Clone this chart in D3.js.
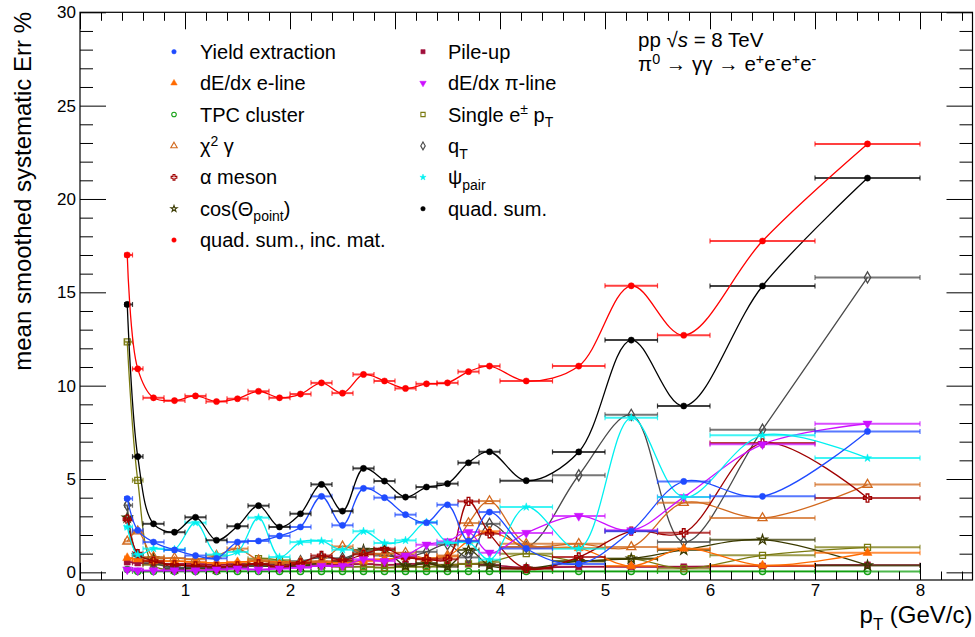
<!DOCTYPE html>
<html>
<head>
<meta charset="utf-8">
<script src="https://cdn.jsdelivr.net/npm/d3@7"></script>
<style>
  body { margin: 0; background: #fff; }
  text { font-family: "Liberation Sans", Arial, Helvetica, sans-serif; fill: #000; }
</style>
</head>
<body>
<div id="chart"></div>
<script>
// pT bins (GeV/c)
var pt     = [0.45, 0.55, 0.7, 0.9, 1.1, 1.3, 1.5, 1.7, 1.9, 2.1, 2.3, 2.5, 2.7, 2.9, 3.1, 3.3, 3.5, 3.7, 3.9, 4.25, 4.75, 5.25, 5.75, 6.5, 7.5];
var ptLow  = [0.425, 0.5, 0.6, 0.8, 1.0, 1.2, 1.4, 1.6, 1.8, 2.0, 2.2, 2.4, 2.6, 2.8, 3.0, 3.2, 3.4, 3.6, 3.8, 4.0, 4.5, 5.0, 5.5, 6.0, 7.0];
var ptHigh = [0.5, 0.6, 0.8, 1.0, 1.2, 1.4, 1.6, 1.8, 2.0, 2.2, 2.4, 2.6, 2.8, 3.0, 3.2, 3.4, 3.6, 3.8, 4.0, 4.5, 5.0, 5.5, 6.0, 7.0, 8.0];

// systematic errors in %
var yieldExtraction = [3.95, 2.25, 1.62, 1.2, 0.9, 0.75, 1.62, 1.68, 1.95, 2.43, 4.07, 2.52, 4.5, 4.0, 3.09, 2.66, 3.62, 1.68, 3.23, 1.28, 0.45, 2.2, 4.87, 4.07, 7.55];
var dEdxELine       = [0.77, 0.7, 0.6, 0.6, 0.55, 0.5, 0.55, 0.6, 0.55, 0.5, 0.55, 0.5, 0.6, 0.7, 0.8, 0.75, 0.85, 1.7, 2.2, 1.35, 1.3, 0.34, 1.27, 0.37, 1.05];
var tpcCluster      = [0.15, 0.05, 0.05, 0.05, 0.05, 0.05, 0.05, 0.05, 0.05, 0.05, 0.05, 0.05, 0.05, 0.05, 0.05, 0.05, 0.05, 0.05, 0.05, 0.05, 0.05, 0.05, 0.05, 0.05, 0.05];
var chi2Gamma       = [1.66, 2.2, 0.82, 0.77, 0.7, 0.9, 1.27, 0.65, 0.5, 0.55, 0.6, 1.39, 1.0, 1.0, 1.05, 0.75, 0.9, 2.64, 3.82, 1.53, 1.53, 1.36, 3.73, 2.91, 4.7];
var alphaMeson      = [2.85, 1.0, 0.6, 0.4, 0.35, 0.3, 0.35, 0.45, 0.3, 0.5, 0.9, 0.65, 0.96, 1.27, 0.8, 0.7, 0.7, 3.8, 2.07, 0.2, 0.82, 2.21, 2.12, 6.93, 3.98];
var cosPointing     = [2.93, 0.9, 0.75, 0.2, 0.25, 0.2, 0.3, 0.35, 0.3, 0.35, 0.5, 0.6, 1.2, 1.2, 0.35, 0.5, 0.3, 1.2, 0.37, 0.2, 0.6, 0.73, 1.2, 1.75, 0.37];
var quadSumIncMat   = [17.0, 10.9, 9.35, 9.2, 9.45, 9.15, 9.3, 9.7, 9.35, 9.55, 10.15, 9.6, 10.6, 10.25, 9.85, 10.1, 10.15, 10.75, 11.05, 10.25, 11.05, 15.35, 12.7, 17.75, 22.95];
var pileUp          = [0.55, 0.5, 0.45, 0.45, 0.45, 0.4, 0.45, 0.45, 0.4, 0.45, 0.45, 0.4, 0.45, 0.4, 0.45, 0.45, 0.4, 0.45, 0.4, 0.25, 0.3, 0.3, 0.3, 0.34, 0.4];
var dEdxPiLine      = [0.15, 0.1, 0.1, 0.1, 0.1, 0.15, 0.2, 0.15, 0.2, 0.25, 0.35, 0.35, 0.7, 0.6, 0.9, 1.48, 1.66, 2.16, 1.05, 2.11, 3.02, 2.25, 4.03, 6.86, 7.96];
var singlePt        = [12.35, 4.93, 0.4, 0.15, 0.2, 0.15, 0.25, 0.73, 0.65, 0.4, 0.35, 0.3, 0.3, 0.25, 0.3, 0.3, 0.4, 0.45, 0.55, 1.0, 0.6, 0.73, 0.2, 0.91, 1.34];
var qT              = [3.59, 0.9, 0.5, 0.25, 0.3, 0.25, 0.3, 0.4, 0.5, 0.6, 0.8, 0.75, 1.1, 0.9, 0.8, 1.1, 1.5, 0.8, 2.6, 1.36, 5.2, 8.44, 1.62, 7.64, 15.8];
var psiPair         = [2.43, 0.95, 1.27, 1.23, 2.66, 0.95, 1.09, 2.93, 0.82, 1.62, 1.68, 1.21, 2.2, 1.57, 1.71, 2.69, 1.59, 1.62, 0.68, 3.5, 1.27, 8.28, 4.03, 7.34, 6.12];
var quadSum         = [14.35, 6.2, 2.6, 2.15, 2.95, 1.72, 2.47, 3.57, 2.43, 3.14, 4.71, 3.28, 5.57, 4.89, 4.03, 4.57, 4.75, 5.87, 6.46, 4.91, 6.45, 12.44, 8.91, 15.34, 21.12];

var W = 975, H = 637;
var fx0 = 80, fx1 = 972.5, fy0 = 12.3, fy1 = 580;

var svg = d3.select("#chart").append("svg")
    .attr("width", W)
    .attr("height", H);

var x = d3.scaleLinear().domain([0, 8.5]).range([fx0, fx1]);
var y = d3.scaleLinear().domain([-0.41, 30]).range([fy1, fy0]);

// series styles (legend order)
var series = [
  {key: "yield",  values: yieldExtraction, color: "#1f4bff", shape: d3.symbolCircle,   fill: true,  label: [["Yield extraction"]]},
  {key: "eline",  values: dEdxELine,       color: "#ff6a00", shape: d3.symbolTriangle, fill: true,  label: [["dE/dx e-line"]]},
  {key: "tpc",    values: tpcCluster,      color: "#12a012", shape: d3.symbolCircle,   fill: false, label: [["TPC cluster"]]},
  {key: "chi2",   values: chi2Gamma,       color: "#d2691e", shape: d3.symbolTriangle, fill: false, label: [["\u03c7"], ["2", "sup"], [" \u03b3"]]},
  {key: "alpha",  values: alphaMeson,      color: "#a00000", shape: d3.symbolCross,    fill: false, label: [["\u03b1 meson"]]},
  {key: "cos",    values: cosPointing,     color: "#3a3a00", shape: d3.symbolStar,     fill: false, label: [["cos(\u0398"], ["point", "sub"], [")"]]},
  {key: "quadm",  values: quadSumIncMat,   color: "#ff0000", shape: d3.symbolCircle,   fill: true,  label: [["quad. sum., inc. mat."]]},
  {key: "pileup", values: pileUp,          color: "#a0103c", shape: d3.symbolSquare,   fill: true,  label: [["Pile-up"]]},
  {key: "piline", values: dEdxPiLine,      color: "#cc11ff", shape: d3.symbolTriangle, fill: true,  down: true, label: [["dE/dx \u03c0-line"]]},
  {key: "single", values: singlePt,        color: "#7a7a10", shape: d3.symbolSquare,   fill: false, label: [["Single e"], ["\u00b1", "sup"], [" p"], ["T", "sub"]]},
  {key: "qt",     values: qT,              color: "#4a4a4a", shape: d3.symbolDiamond,  fill: false, label: [["q"], ["T", "sub"]]},
  {key: "psi",    values: psiPair,         color: "#00f0f0", shape: d3.symbolStar,     fill: true,  label: [["\u03c8"], ["pair", "sub"]]},
  {key: "quad",   values: quadSum,         color: "#000000", shape: d3.symbolCircle,   fill: true,  label: [["quad. sum."]]}
];

var drawOrder = ["tpc", "pileup", "single", "cos", "qt", "eline", "chi2", "alpha", "piline", "psi", "yield", "quad", "quadm"];

var line = d3.line()
    .curve(d3.curveCatmullRom.alpha(0.5))
    .x(function(d) { return x(d.pt); })
    .y(function(d) { return y(d.v); });

function markerPath(s, size) {
  return d3.symbol().type(s.shape).size(size)();
}

function markerTransform(s, cx, cy) {
  return "translate(" + cx + "," + cy + ")" + (s.down ? " rotate(180)" : "");
}

var plot = svg.append("g");

drawOrder.forEach(function(k) {
  var s = series.find(function(d) { return d.key === k; });
  var pts = s.values.map(function(v, i) {
    return {pt: pt[i], lo: ptLow[i], hi: ptHigh[i], v: v};
  });
  var g = plot.append("g").attr("class", "series-" + k);

  g.append("path")
      .attr("d", line(pts))
      .attr("fill", "none")
      .attr("stroke", s.color)
      .attr("stroke-width", 1.3);

  // horizontal bin-width error bars
  var eb = g.selectAll(".eb").data(pts).enter().append("g")
      .attr("stroke", s.color)
      .attr("stroke-opacity", 0.75)
      .attr("stroke-width", 2);
  eb.append("line")
      .attr("x1", function(d) { return x(d.lo); })
      .attr("x2", function(d) { return x(d.hi); })
      .attr("y1", function(d) { return y(d.v); })
      .attr("y2", function(d) { return y(d.v); });
  eb.append("line")
      .attr("x1", function(d) { return x(d.lo); })
      .attr("x2", function(d) { return x(d.lo); })
      .attr("y1", function(d) { return y(d.v) - 2.5; })
      .attr("y2", function(d) { return y(d.v) + 2.5; })
      .attr("stroke-width", 1.2);
  eb.append("line")
      .attr("x1", function(d) { return x(d.hi); })
      .attr("x2", function(d) { return x(d.hi); })
      .attr("y1", function(d) { return y(d.v) - 2.5; })
      .attr("y2", function(d) { return y(d.v) + 2.5; })
      .attr("stroke-width", 1.2);

  var sz = s.shape === d3.symbolCircle ? 30 : 36;
  if (k === "psi") sz = 20;
  if (k === "cos") sz = 28;
  g.selectAll(".mk").data(pts).enter().append("path")
      .attr("d", markerPath(s, sz))
      .attr("transform", function(d) { return markerTransform(s, x(d.pt), y(d.v)); })
      .attr("fill", s.fill ? s.color : "none")
      .attr("stroke", s.color)
      .attr("stroke-width", s.fill ? 0.5 : 1.3);
});

// axes: ticks point inward on all four sides
var yMajor = d3.range(0, 31, 5);
var yMinor = d3.range(0, 31, 1).filter(function(d) { return d % 5 !== 0; });
var xMajor = d3.range(0, 9, 1);
var xMinor = d3.range(0, 8.45, 0.2).filter(function(d) { return Math.abs(d - Math.round(d)) > 1e-6; });

function styleAxis(g) {
  g.select(".domain").remove();
  g.selectAll("line").attr("stroke", "#000").attr("stroke-width", 1);
  g.selectAll("text").attr("font-size", 17).attr("fill", "#000")
      .attr("font-family", "'Liberation Sans', Arial, sans-serif");
}

svg.append("g").attr("transform", "translate(" + fx0 + ",0)")
    .call(d3.axisLeft(y).tickValues(yMajor).tickSize(-26).tickPadding(4))
    .call(styleAxis);
svg.append("g").attr("transform", "translate(" + fx0 + ",0)")
    .call(d3.axisLeft(y).tickValues(yMinor).tickSize(-13).tickFormat(""))
    .call(styleAxis);
svg.append("g").attr("transform", "translate(" + fx1 + ",0)")
    .call(d3.axisRight(y).tickValues(yMajor).tickSize(-26).tickFormat(""))
    .call(styleAxis);
svg.append("g").attr("transform", "translate(" + fx1 + ",0)")
    .call(d3.axisRight(y).tickValues(yMinor).tickSize(-13).tickFormat(""))
    .call(styleAxis);

svg.append("g").attr("transform", "translate(0," + fy1 + ")")
    .call(d3.axisBottom(x).tickValues(xMajor).tickSize(-17).tickPadding(4).tickFormat(d3.format("d")))
    .call(styleAxis);
svg.append("g").attr("transform", "translate(0," + fy1 + ")")
    .call(d3.axisBottom(x).tickValues(xMinor).tickSize(-8.5).tickFormat(""))
    .call(styleAxis);
svg.append("g").attr("transform", "translate(0," + fy0 + ")")
    .call(d3.axisTop(x).tickValues(xMajor).tickSize(-17).tickFormat(""))
    .call(styleAxis);
svg.append("g").attr("transform", "translate(0," + fy0 + ")")
    .call(d3.axisTop(x).tickValues(xMinor).tickSize(-8.5).tickFormat(""))
    .call(styleAxis);

// frame
svg.append("rect")
    .attr("x", fx0).attr("y", fy0)
    .attr("width", fx1 - fx0).attr("height", fy1 - fy0)
    .attr("fill", "none").attr("stroke", "#000").attr("stroke-width", 1.2);

// text with sub/superscripts
function rich(sel, parts, fs) {
  var shift = 0;
  parts.forEach(function(p) {
    var kind = p[1] || "n";
    var target = kind === "sup" ? -0.36 * fs : (kind === "sub" ? 0.28 * fs : 0);
    var t = sel.append("tspan").attr("dy", target - shift).text(p[0]);
    if (kind === "sup" || kind === "sub") t.attr("font-size", 0.7 * fs);
    if (kind === "it") t.attr("font-style", "italic");
    shift = target;
  });
}

// axis titles
svg.append("text")
    .attr("transform", "translate(31,12) rotate(-90)")
    .attr("text-anchor", "end")
    .attr("font-size", 24)
    .text("mean smoothed systematic Err %");

var xt = svg.append("text")
    .attr("x", fx1).attr("y", 623)
    .attr("text-anchor", "end")
    .attr("font-size", 24);
rich(xt, [["p"], ["T", "sub"], [" (GeV/c)"]], 24);

// legend, two columns filled column-wise
var legFs = 20;
var legCols = [[0, 1, 2, 3, 4, 5, 6], [7, 8, 9, 10, 11, 12]];
var colMarkX = [174, 423], colTextX = [200, 448];
legCols.forEach(function(col, c) {
  col.forEach(function(idx, r) {
    var s = series[idx];
    var cy = 51.7 + r * 31.4;
    var msz = s.shape === d3.symbolCircle ? 16 : 18;
    if (s.shape === d3.symbolStar) msz = 12;
    svg.append("path")
        .attr("d", markerPath(s, msz))
        .attr("transform", markerTransform(s, colMarkX[c], cy))
        .attr("fill", s.fill ? s.color : "none")
        .attr("stroke", s.color)
        .attr("stroke-width", s.fill ? 0.5 : 1.1);
    var t = svg.append("text")
        .attr("x", colTextX[c]).attr("y", cy + 7)
        .attr("font-size", legFs);
    rich(t, s.label, legFs);
  });
});

// collision system label
var l1 = svg.append("text").attr("x", 638).attr("y", 47).attr("font-size", 20.5);
rich(l1, [["pp  \u221a"], ["s", "it"], [" = 8 TeV"]], 20.5);
var l2 = svg.append("text").attr("x", 638).attr("y", 71).attr("font-size", 20.5);
rich(l2, [["\u03c0"], ["0", "sup"], [" \u2192 \u03b3\u03b3 \u2192 e"], ["+", "sup"], ["e"], ["-", "sup"], ["e"], ["+", "sup"], ["e"], ["-", "sup"]], 20.5);
</script>
</body>
</html>
